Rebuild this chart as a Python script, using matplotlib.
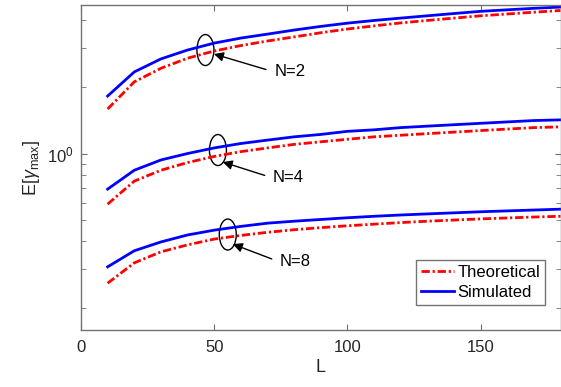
import numpy as np
import matplotlib
matplotlib.use("Agg")
import matplotlib.pyplot as plt
import matplotlib.ticker as ticker
from matplotlib.patches import Ellipse
from matplotlib.transforms import ScaledTranslation

plt.rcParams['font.family'] = ['Liberation Sans', 'DejaVu Sans']
plt.rcParams['mathtext.fontset'] = 'custom'
plt.rcParams['mathtext.rm'] = 'Liberation Sans'
plt.rcParams['mathtext.it'] = 'Liberation Sans:italic'

L = [10, 20, 30, 40, 50, 60, 70, 80, 90, 100, 110, 120, 130, 140, 150, 160, 170, 180]

sim_n2 = [1.82, 2.34, 2.68, 2.94, 3.16, 3.33, 3.47, 3.62, 3.76, 3.89, 4.00, 4.10, 4.20, 4.30, 4.40, 4.47, 4.54, 4.60]
theo_n2 = [1.59, 2.11, 2.43, 2.70, 2.91, 3.08, 3.23, 3.37, 3.52, 3.66, 3.78, 3.90, 4.00, 4.10, 4.20, 4.28, 4.36, 4.44]

sim_n4 = [0.69, 0.84, 0.935, 1.00, 1.06, 1.11, 1.15, 1.19, 1.22, 1.26, 1.28, 1.31, 1.33, 1.35, 1.37, 1.39, 1.41, 1.42]
theo_n4 = [0.59, 0.75, 0.84, 0.91, 0.97, 1.02, 1.06, 1.10, 1.13, 1.16, 1.19, 1.21, 1.23, 1.25, 1.27, 1.29, 1.31, 1.32]

sim_n8 = [0.307, 0.363, 0.398, 0.428, 0.450, 0.468, 0.484, 0.494, 0.503, 0.512, 0.520, 0.527, 0.533, 0.539, 0.545, 0.550, 0.555, 0.560]
theo_n8 = [0.259, 0.320, 0.359, 0.386, 0.410, 0.426, 0.440, 0.452, 0.462, 0.471, 0.479, 0.487, 0.494, 0.500, 0.506, 0.511, 0.516, 0.520]

# annotations: label, ellipse centre, arrow tip, text position (data coords)
notes = [
    ("N=2", (46.7, 2.94), (49.9, 2.82), (72.5, 2.34)),
    ("N=4", (51.4, 1.037), (53.2, 0.915), (72.0, 0.775)),
    ("N=8", (55.1, 0.430), (57.0, 0.389), (74.6, 0.323)),
]

GRAY = "0.45"
fig = plt.figure(figsize=(5.61, 3.87), dpi=100)
ax = fig.add_axes([81 / 561, 57 / 387, 479.5 / 561, 325 / 387])

dash = (0, (3, 1, 0.8, 1))
for i, (th, si) in enumerate([(theo_n2, sim_n2), (theo_n4, sim_n4), (theo_n8, sim_n8)]):
    ax.plot(L, th, color="red", lw=2, ls=dash, label="Theoretical" if i == 0 else None)
    ax.plot(L, si, color="blue", lw=2, label="Simulated" if i == 0 else None)

ax.set_yscale("log")
ax.set_xlim(0, 180)
ax.set_ylim(0.159, 4.7)
ax.set_xticks([0, 50, 100, 150])
ax.yaxis.set_minor_formatter(ticker.NullFormatter())

for s in ax.spines.values():
    s.set_color(GRAY)
    s.set_linewidth(1.0)
ax.tick_params(which="both", direction="in", top=True, right=True, color=GRAY,
               labelsize=12, labelcolor="0.15")
ax.tick_params(axis="x", pad=7)
ax.tick_params(axis="y", pad=5)
ax.tick_params(which="major", length=4.5)
ax.tick_params(which="minor", length=3.5)

ax.set_xlabel("L", fontsize=13, color="0.15", labelpad=3)
ax.set_ylabel(r"E[$\gamma_{\rm max}$]", fontsize=13, color="0.15", labelpad=4)

for label, centre, tip, txt in notes:
    tr = fig.dpi_scale_trans + ScaledTranslation(centre[0], centre[1], ax.transData)
    ax.add_patch(Ellipse((0, 0), 0.17, 0.31, transform=tr, fill=False, ec="black", lw=1))
    ax.annotate(label, xy=tip, xytext=txt, fontsize=12, ha="left", va="center",
                arrowprops=dict(arrowstyle="-|>", color="black", lw=1,
                                mutation_scale=14, shrinkA=4, shrinkB=0,
                                relpos=(0, 0.5)))

leg = ax.legend(loc="upper left", bbox_to_anchor=(0.698, 0.215), borderaxespad=0,
                fontsize=12, fancybox=False, framealpha=1, edgecolor=GRAY,
                handlelength=2.0, handletextpad=0.2, borderpad=0.3,
                labelspacing=0.3)
leg.get_frame().set_linewidth(1.0)

fig.savefig("out.png", dpi=100)
